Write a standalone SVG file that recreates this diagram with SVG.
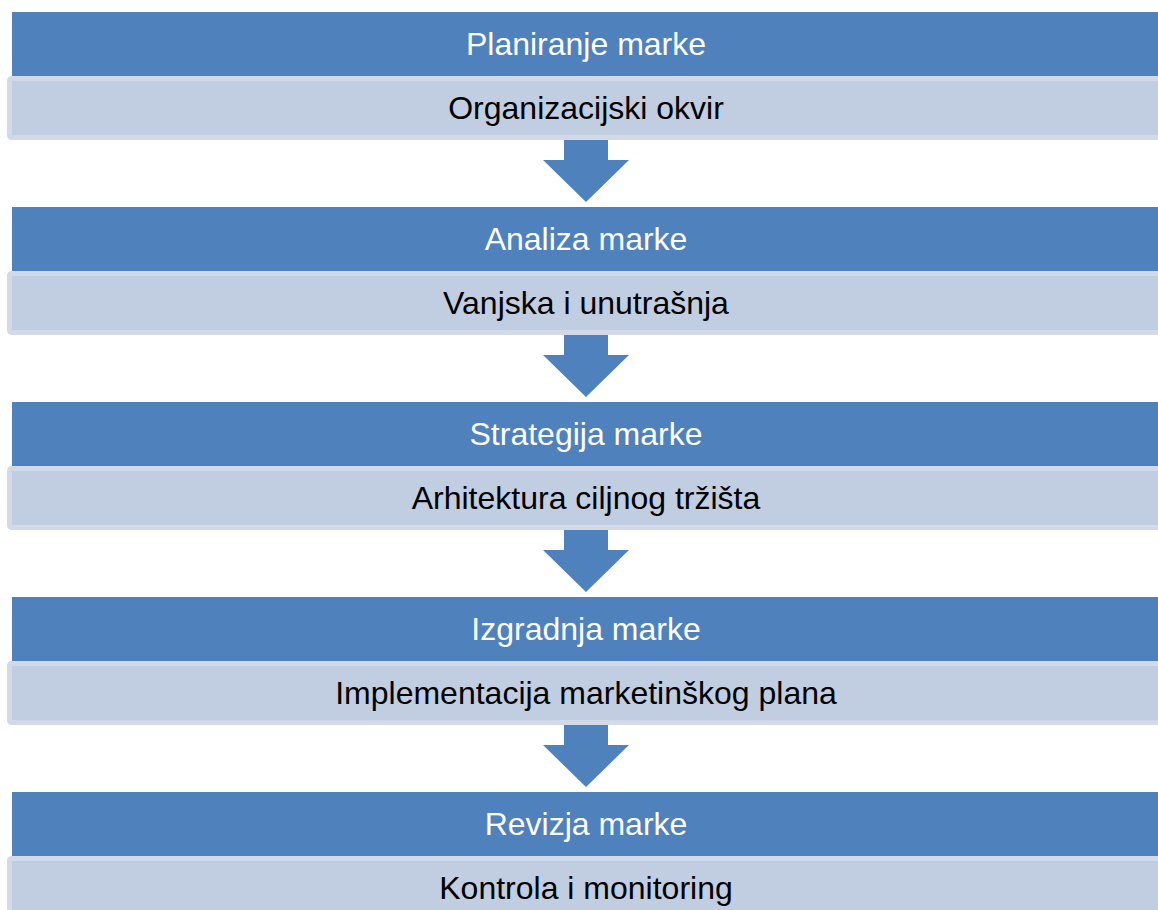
<svg xmlns="http://www.w3.org/2000/svg" width="1158" height="910" viewBox="0 0 1158 910">
<style>
.hd{fill:#4f81bd}
.bd{fill:#c1cee2;stroke:#d2dae9;stroke-width:5}
.ar{fill:#4f81bd}
.t{font-family:"Liberation Sans",Arial,sans-serif;font-size:32px;text-anchor:middle}
.w{fill:#ffffff}
.k{fill:#000000}
</style>
<rect width="1158" height="910" fill="#ffffff"/>
<g id="connectors">
<polygon class="ar" points="564,137 608,137 608,160 629,160 586,202 543,160 564,160"/>
<polygon class="ar" points="564,332 608,332 608,355 629,355 586,397 543,355 564,355"/>
<polygon class="ar" points="564,527 608,527 608,550 629,550 586,592 543,550 564,550"/>
<polygon class="ar" points="564,722 608,722 608,745 629,745 586,787 543,745 564,745"/>
</g>
<g id="n1">
<rect class="hd" x="12" y="12" width="1180" height="64"/>
<text class="t w" x="586" y="55">Planiranje marke</text>
<rect class="bd" x="9.5" y="78.5" width="1180" height="59" rx="2"/>
<text class="t k" x="586" y="119">Organizacijski okvir</text>
</g>
<g id="n2">
<rect class="hd" x="12" y="207" width="1180" height="64"/>
<text class="t w" x="586" y="250">Analiza marke</text>
<rect class="bd" x="9.5" y="273.5" width="1180" height="59" rx="2"/>
<text class="t k" x="586" y="314">Vanjska i unutrašnja</text>
</g>
<g id="n3">
<rect class="hd" x="12" y="402" width="1180" height="64"/>
<text class="t w" x="586" y="445">Strategija marke</text>
<rect class="bd" x="9.5" y="468.5" width="1180" height="59" rx="2"/>
<text class="t k" x="586" y="509">Arhitektura ciljnog tržišta</text>
</g>
<g id="n4">
<rect class="hd" x="12" y="597" width="1180" height="64"/>
<text class="t w" x="586" y="640">Izgradnja marke</text>
<rect class="bd" x="9.5" y="663.5" width="1180" height="59" rx="2"/>
<text class="t k" x="586" y="704">Implementacija marketinškog plana</text>
</g>
<g id="n5">
<rect class="hd" x="12" y="792" width="1180" height="64"/>
<text class="t w" x="586" y="835">Revizja marke</text>
<rect class="bd" x="9.5" y="858.5" width="1180" height="59" rx="2"/>
<text class="t k" x="586" y="899">Kontrola i monitoring</text>
</g>
</svg>
